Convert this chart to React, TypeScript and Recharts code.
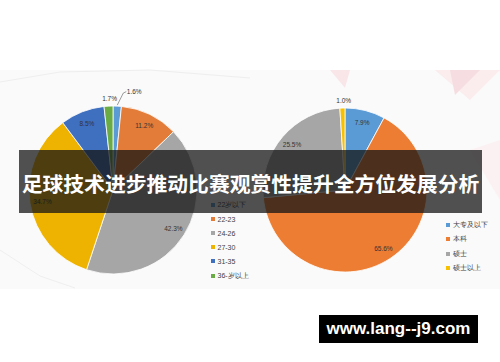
import React from 'react';
import { PieChart, Pie, Cell } from 'recharts';

const titleText = '足球技术进步推动比赛观赏性提升全方位发展分析';
const watermarkText = 'www.lang--j9.com';

const leftCategories = ['22岁以下', '22-23', '24-26', '27-30', '31-35', '36-岁以上'];
const leftValues = [1.6, 11.2, 42.3, 34.7, 8.5, 1.7];
const leftColors = ['#5B9BD5', '#E37C38', '#A6A6A6', '#EEB300', '#3F6FBF', '#6AAB46'];

const rightCategories = ['大专及以下', '本科', '硕士', '硕士以上'];
const rightValues = [7.9, 65.6, 25.5, 1.0];
const rightColors = ['#5B9BD5', '#EC7D32', '#A6A6A6', '#F7C000'];

const leftData = leftCategories.map((name, i) => ({ name, value: leftValues[i] }));
const rightData = rightCategories.map((name, i) => ({ name, value: rightValues[i] }));

const RAD = Math.PI / 180;
const labelFont = '"Liberation Sans", Arial, sans-serif';

const renderLabel = (props: any) => {
  const { cx, cy, midAngle, outerRadius, percent, value } = props;
  const R = outerRadius;
  const text = `${Number(value).toFixed(1)}%`;
  if (percent >= 0.02) {
    const r = R * 0.85;
    const x = cx + r * Math.cos(-midAngle * RAD);
    const y = cy + r * Math.sin(-midAngle * RAD);
    return (
      <text x={x} y={y} textAnchor="middle" dominantBaseline="central" fontSize={6.5} fill="#333" fontFamily={labelFont}>
        {text}
      </text>
    );
  }
  const m = ((midAngle % 360) + 360) % 360;
  const rightSide = m < 90 || m > 270;
  if (rightSide) {
    const ex = cx + (R + 1) * Math.cos(-midAngle * RAD);
    const ey = cy + (R + 1) * Math.sin(-midAngle * RAD);
    const kx = ex + 6;
    const ky = ey - 12;
    return (
      <g>
        <polyline points={`${ex},${ey} ${kx},${ky} ${kx + 3},${ky - 1.5}`} fill="none" stroke="#595959" strokeWidth={0.6} />
        <text x={kx + 3.5} y={ky - 1.5} textAnchor="start" dominantBaseline="central" fontSize={6.5} fill="#333" fontFamily={labelFont}>
          {text}
        </text>
      </g>
    );
  }
  const r = R + 7.5;
  const x = cx + r * Math.cos(-midAngle * RAD);
  const y = cy + r * Math.sin(-midAngle * RAD);
  return (
    <text x={x + 1.5} y={y} textAnchor="middle" dominantBaseline="central" fontSize={6.5} fill="#333" fontFamily={labelFont}>
      {text}
    </text>
  );
};

const Legend = ({ items, colors, left, top, gap }: { items: string[]; colors: string[]; left: number; top: number; gap: number }) => (
  <div style={{ position: 'absolute', left, top }}>
    {items.map((name, i) => (
      <div
        key={name}
        style={{
          position: 'absolute',
          left: 0,
          top: i * gap - 5,
          height: 10,
          display: 'flex',
          alignItems: 'center',
          whiteSpace: 'nowrap',
          fontFamily: labelFont,
          fontSize: 7,
          color: '#404040',
        }}
      >
        <span style={{ display: 'inline-block', width: 4, height: 4, background: colors[i], marginRight: 2.5 }} />
        {name}
      </div>
    ))}
  </div>
);

export default function App() {
  return (
    <div style={{ position: 'absolute', left: 0, top: 0, width: 500, height: 362, background: '#ffffff', overflow: 'hidden' }}>
      <svg width={500} height={362} style={{ position: 'absolute', left: 0, top: 0 }}>
        <rect x={0} y={70} width={500} height={219} fill="#fafafa" />
        <polyline points="0,82 60,72 150,70 250,78" fill="none" stroke="#eeeeee" strokeWidth={1} />
        <polyline points="0,250 40,276 75,288" fill="none" stroke="#efefef" strokeWidth={1} />
        <polygon points="330,70 350,70 345,88" fill="#f9e6e9" />
        <polygon points="435,70 500,70 470,100" fill="#fbecee" />
        <polygon points="450,70 480,70 455,95" fill="#f6dde1" />
        <polygon points="470,150 500,140 500,200" fill="#fcf1f2" />
      </svg>
      <div style={{ position: 'absolute', left: 0, top: 0 }}>
        <PieChart width={500} height={362} margin={{ top: 0, right: 0, bottom: 0, left: 0 }}>
          <Pie
            data={leftData}
            dataKey="value"
            nameKey="name"
            cx={113}
            cy={190}
            outerRadius={84}
            startAngle={90}
            endAngle={-270}
            stroke="#ffffff"
            strokeWidth={0.8}
            label={renderLabel}
            labelLine={false}
            isAnimationActive={false}
          >
            {leftData.map((d, i) => (
              <Cell key={d.name} fill={leftColors[i]} />
            ))}
          </Pie>
          <Pie
            data={rightData}
            dataKey="value"
            nameKey="name"
            cx={345}
            cy={190}
            outerRadius={82}
            startAngle={90}
            endAngle={-270}
            stroke="#ffffff"
            strokeWidth={0.8}
            label={renderLabel}
            labelLine={false}
            isAnimationActive={false}
          >
            {rightData.map((d, i) => (
              <Cell key={d.name} fill={rightColors[i]} />
            ))}
          </Pie>
        </PieChart>
      </div>
      <Legend items={leftCategories} colors={leftColors} left={211} top={205} gap={14.1} />
      <Legend items={rightCategories} colors={rightColors} left={446} top={225} gap={14.3} />
      <div
        style={{
          position: 'absolute',
          left: 19,
          top: 150,
          width: 463,
          height: 63,
          background: 'rgba(20,20,20,0.74)',
          display: 'flex',
          alignItems: 'center',
          justifyContent: 'center',
          paddingTop: 3,
          boxSizing: 'border-box',
          color: '#ffffff',
          fontFamily: '"Noto Sans CJK SC", sans-serif',
          fontWeight: 700,
          fontSize: 20.8,
          whiteSpace: 'nowrap',
        }}
      >
        {titleText}
      </div>
      <div
        style={{
          position: 'absolute',
          left: 319,
          top: 315,
          width: 159,
          height: 28,
          background: '#000000',
          color: '#ffffff',
          display: 'flex',
          alignItems: 'center',
          justifyContent: 'center',
          fontFamily: '"Liberation Sans", Arial, sans-serif',
          fontWeight: 700,
          fontSize: 17,
          whiteSpace: 'nowrap',
        }}
      >
        {watermarkText}
      </div>
    </div>
  );
}
